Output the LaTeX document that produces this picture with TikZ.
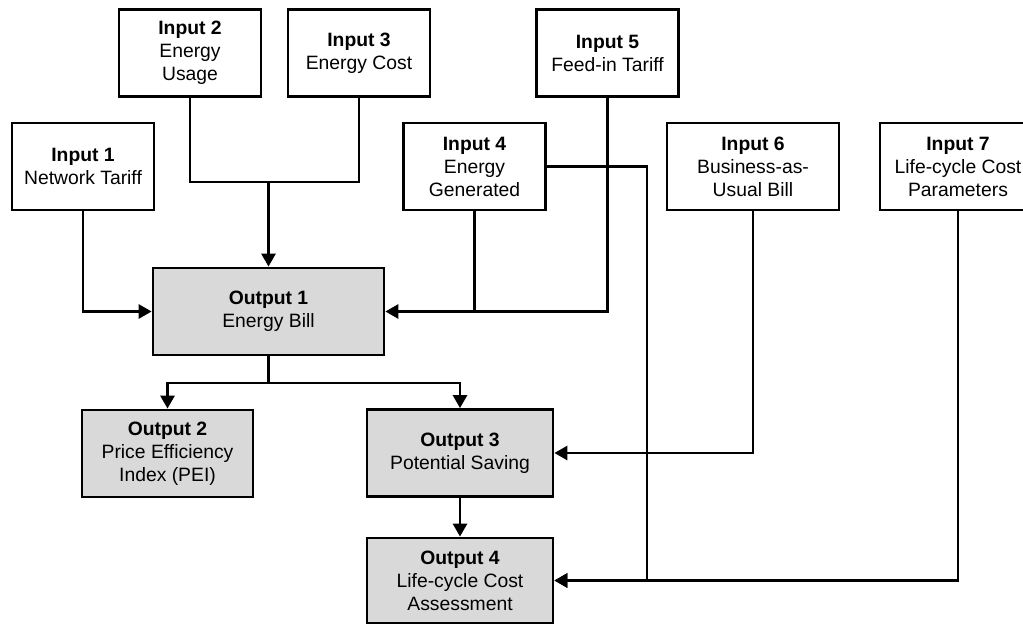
\documentclass[tikz,border=0pt]{standalone}
\usepackage{fontspec}
\setmainfont{Liberation Sans}
\usepackage{tikz}
\usetikzlibrary{arrows.meta}
\tikzset{>={Triangle[length=0.26cm,width=0.28cm]}}
\tikzset{
  inbox/.style={draw, line width=1.6pt, align=center, inner sep=0pt,
    minimum width=2.84cm, minimum height=1.74cm,
    font=\fontsize{11}{13.1}\selectfont},
  outbox/.style={inbox, fill=black!15},
  link/.style={line width=1.6pt}
}

\begin{document}
\begin{tikzpicture}[x=0.02cm, y=-0.02cm]
    \useasboundingbox (0,0) rectangle (1023,624);
    \clip (0,0) rectangle (1023,624);
    % inputs
    \node[inbox] (in1) at (83,166.5) {\textbf{Input 1}\\Network Tariff};
    \node[inbox] (in2) at (190,53) {\textbf{Input 2}\\Energy\\Usage};
    \node[inbox] (in3) at (359,53) {\textbf{Input 3}\\Energy Cost};
    \node[inbox] (in4) at (474.5,166.5) {\textbf{Input 4}\\Energy\\Generated};
    \node[inbox] (in5) at (607.5,53) {\textbf{Input 5}\\Feed-in Tariff};
    \node[inbox, minimum width=3.44cm] (in6) at (753,166.5) {\textbf{Input 6}\\Business-as-\\Usual Bill};
    \node[inbox, minimum width=3.12cm] (in7) at (958,166.5) {\textbf{Input 7}\\Life-cycle Cost\\Parameters};
    % outputs
    \node[outbox, minimum width=4.62cm] (out1) at (268.5,311.5) {\textbf{Output 1}\\Energy Bill};
    \node[outbox, minimum width=3.42cm] (out2) at (167.5,453.5) {\textbf{Output 2}\\Price Efficiency\\Index (PEI)};
    \node[outbox, minimum width=3.72cm] (out3) at (460,453) {\textbf{Output 3}\\Potential Saving};
    \node[outbox, minimum width=3.72cm, minimum height=1.7cm] (out4) at (460,580.5) {\textbf{Output 4}\\Life-cycle Cost\\Assessment};
    % joints
    \coordinate (j23) at (268.5,182);
    \coordinate (j1) at (268.5,383);
    \coordinate (k4) at (647,166.5);
    % links
    \draw[link, ->] (in1.south) |- (out1.west);
    \draw[link] (in2.south) |- (j23) -| (in3.south);
    \draw[link, ->] (j23) -- (out1.north);
    \draw[link, ->] (in5.south) |- (out1.east);
    \draw[link] (in4.south) -- (in4.south |- out1.east);
    \draw[link] (out1.south) -- (j1);
    \draw[link, ->] (j1) -| (out2.north);
    \draw[link, ->] (j1) -| (out3.north);
    \draw[link, ->] (out3) -- (out4);
    \draw[link, ->] (in6.south) |- (out3.east);
    \draw[link, ->] (in4.east) -- (k4) |- (out4.east);
    \draw[link, ->] (in7.south) |- (out4.east);
\end{tikzpicture}
\end{document}
